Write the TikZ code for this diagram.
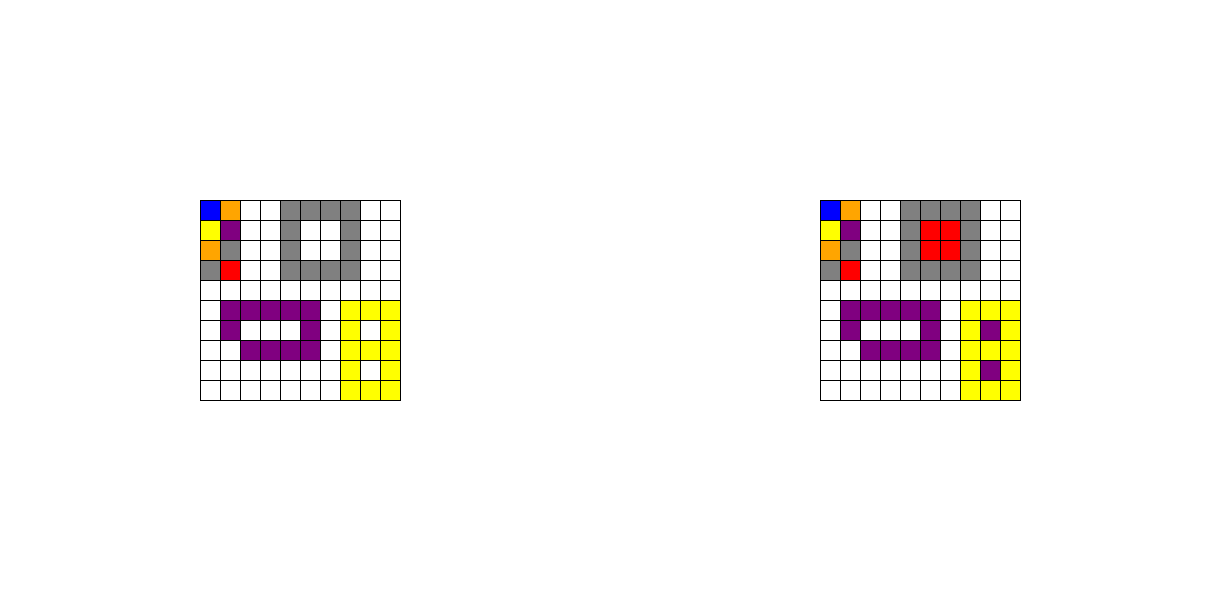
\documentclass[tikz,border=0pt]{standalone}
\usepackage{tikz}
\definecolor{cellW}{RGB}{255,255,255}
\definecolor{cellB}{RGB}{0,0,255}
\definecolor{cellO}{RGB}{255,165,0}
\definecolor{cellY}{RGB}{255,255,0}
\definecolor{cellP}{RGB}{128,0,128}
\definecolor{cellG}{RGB}{128,128,128}
\definecolor{cellR}{RGB}{255,0,0}

\begin{document}
\begin{tikzpicture}[
  cell/.style={draw=black, line width=0.6pt},
]
\useasboundingbox (0,0) rectangle (30.5,-15);

% input grid
\begin{scope}[shift={(5,-5)}]
\foreach \rowlist [count=\r from 0] in {
  {B,O,W,W,G,G,G,G,W,W},
  {Y,P,W,W,G,W,W,G,W,W},
  {O,G,W,W,G,W,W,G,W,W},
  {G,R,W,W,G,G,G,G,W,W},
  {W,W,W,W,W,W,W,W,W,W},
  {W,P,P,P,P,P,W,Y,Y,Y},
  {W,P,W,W,W,P,W,Y,W,Y},
  {W,W,P,P,P,P,W,Y,Y,Y},
  {W,W,W,W,W,W,W,Y,W,Y},
  {W,W,W,W,W,W,W,Y,Y,Y}}
  \foreach \c [count=\k from 0] in \rowlist
    \draw[cell, fill=cell\c] (\k*0.5,-\r*0.5) rectangle ++(0.5,-0.5);
\end{scope}

% output grid
\begin{scope}[shift={(20.5,-5)}]
\foreach \rowlist [count=\r from 0] in {
  {B,O,W,W,G,G,G,G,W,W},
  {Y,P,W,W,G,R,R,G,W,W},
  {O,G,W,W,G,R,R,G,W,W},
  {G,R,W,W,G,G,G,G,W,W},
  {W,W,W,W,W,W,W,W,W,W},
  {W,P,P,P,P,P,W,Y,Y,Y},
  {W,P,W,W,W,P,W,Y,P,Y},
  {W,W,P,P,P,P,W,Y,Y,Y},
  {W,W,W,W,W,W,W,Y,P,Y},
  {W,W,W,W,W,W,W,Y,Y,Y}}
  \foreach \c [count=\k from 0] in \rowlist
    \draw[cell, fill=cell\c] (\k*0.5,-\r*0.5) rectangle ++(0.5,-0.5);
\end{scope}

\end{tikzpicture}
\end{document}
